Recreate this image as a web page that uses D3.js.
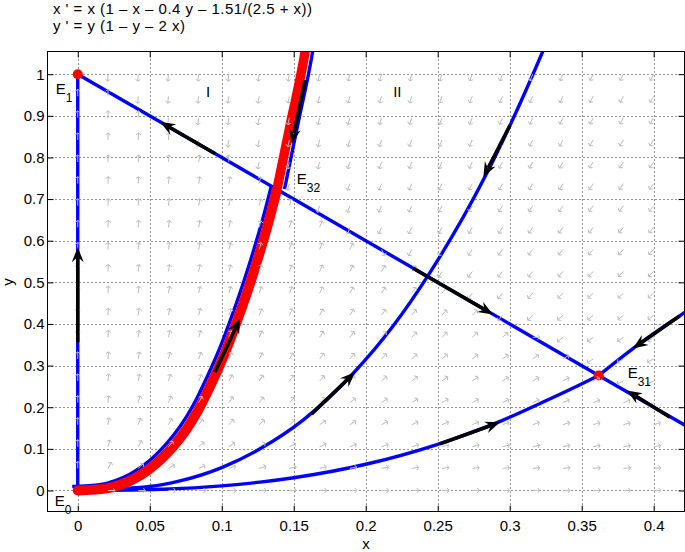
<!DOCTYPE html>
<html>
<head>
<meta charset="utf-8">
<script src="https://cdn.jsdelivr.net/npm/d3@7"></script>
<style>
  body { margin: 0; background: #fff; }
  svg { display: block; font-family: "Liberation Sans", Arial, Helvetica, sans-serif; }
</style>
</head>
<body>
<svg id="chart" width="685" height="552"></svg>
<script>
// system: x' = x (1 - x - a y - b/(c + x)), y' = y (1 - y - d x)
const a = 0.4, b = 1.51, c = 2.5, d = 2;

const xTicks = [0, 0.05, 0.1, 0.15, 0.2, 0.25, 0.3, 0.35, 0.4];
const xTickLabels = ['0', '0.05', '0.1', '0.15', '0.2', '0.25', '0.3', '0.35', '0.4'];
const yTicks = [0, 0.1, 0.2, 0.3, 0.4, 0.5, 0.6, 0.7, 0.8, 0.9, 1];
const yTickLabels = ['0', '0.1', '0.2', '0.3', '0.4', '0.5', '0.6', '0.7', '0.8', '0.9', '1'];

// quiver sample points
const quiverX = [0, 0.021, 0.042, 0.063, 0.084, 0.105, 0.126, 0.147, 0.168, 0.189,
  0.211, 0.232, 0.253, 0.274, 0.295, 0.316, 0.337, 0.358, 0.379, 0.4];
const quiverY = [0, 0.053, 0.105, 0.158, 0.211, 0.263, 0.316, 0.368, 0.421, 0.474,
  0.526, 0.579, 0.632, 0.684, 0.737, 0.789, 0.842, 0.895, 0.947, 1];

// equilibria
const equilibria = [
  { name: 'E', sub: '0', x: 0, y: 0, dot: true },
  { name: 'E', sub: '1', x: 0, y: 1, dot: true },
  { name: 'E', sub: '31', x: 0.3618, y: 0.2764, dot: true },
  { name: 'E', sub: '32', x: 0.1382, y: 0.7236, dot: false }
];

// trajectories
const axisTraj = [[0, 0], [0, 1]];
const saddleLine = [[0, 1], [0.1382, 0.7236], [0.3618, 0.2764], [0.425, 0.15]];
const curveB = [[0, 0], [0.05, 0.0095], [0.071, 0.023], [0.1, 0.055], [0.1266, 0.1],
  [0.1565, 0.169], [0.1912, 0.281], [0.219, 0.395], [0.2447, 0.524], [0.2829, 0.754],
  [0.3002, 0.877], [0.323, 1.055], [0.33, 1.113]];
const curveC = [[0, 0], [0.0641, 0.0036], [0.1, 0.011], [0.1266, 0.02], [0.15, 0.0306],
  [0.2, 0.063], [0.25, 0.111], [0.2933, 0.166], [0.321, 0.209], [0.3488, 0.254],
  [0.3618, 0.2764]];
const curveD = [[0.3618, 0.2764], [0.3856, 0.341], [0.4203, 0.425], [0.43, 0.448]];
const manifoldLower = [[0, 0], [0.02, 0.005], [0.03, 0.0143], [0.04, 0.0295], [0.048, 0.047],
  [0.0575, 0.074], [0.0658, 0.104], [0.075, 0.1445], [0.0835, 0.192], [0.0935, 0.262],
  [0.1026, 0.3335], [0.1116, 0.4166], [0.1196, 0.497], [0.1262, 0.57], [0.1325, 0.645],
  [0.1384, 0.724]];
const manifoldUpper = [[0.1384, 0.724], [0.1432, 0.805], [0.148, 0.885], [0.1575, 1.046],
  [0.16, 1.1]];

// direction arrows: [tailX, tailY, tipX, tipY]
const flowArrows = [
  [0, 0.356, 0, 0.584],
  [0.0955, 0.809, 0.0573, 0.885],
  [0.158, 0.986, 0.1486, 0.833],
  [0.0953, 0.284, 0.1127, 0.413],
  [0.2329, 0.534, 0.2884, 0.423],
  [0.1625, 0.184, 0.1926, 0.284],
  [0.3002, 0.877, 0.2817, 0.753],
  [0.2516, 0.112, 0.2933, 0.164],
  [0.418, 0.419, 0.3856, 0.341],
  [0.4113, 0.176, 0.3814, 0.24]
];

const regionLabels = [{ text: 'I', x: 0.0905, y: 0.945 }, { text: 'II', x: 0.222, y: 0.945 }];

const plot = { left: 47.5, right: 684.5, top: 51.5, bottom: 511.5 };

const svg = d3.select('#chart');

const x = d3.scaleLinear().domain([-0.021, 0.4214]).range([plot.left, plot.right]);
const y = d3.scaleLinear().domain([-0.0505, 1.0545]).range([plot.bottom, plot.top]);

svg.append('defs').append('clipPath').attr('id', 'clip')
  .append('rect')
  .attr('x', plot.left).attr('y', plot.top)
  .attr('width', plot.right - plot.left).attr('height', plot.bottom - plot.top);

// title
const title = svg.append('g').attr('font-size', 15).attr('fill', '#000');
title.append('text').attr('x', 53).attr('y', 14)
  .attr('textLength', 259).attr('lengthAdjust', 'spacing')
  .text("x ' = x (1 \u2013 x \u2013 0.4 y \u2013 1.51/(2.5 + x))");
title.append('text').attr('x', 53).attr('y', 31)
  .attr('textLength', 132).attr('lengthAdjust', 'spacing')
  .text("y ' = y (1 \u2013 y \u2013 2 x)");

// grid
const grid = svg.append('g').attr('stroke', '#222').attr('stroke-width', 1)
  .attr('stroke-dasharray', '1,3');
grid.selectAll('.gx').data(xTicks).enter().append('line')
  .attr('x1', t => Math.round(x(t)) + 0.5).attr('x2', t => Math.round(x(t)) + 0.5)
  .attr('y1', plot.top).attr('y2', plot.bottom);
grid.selectAll('.gy').data(yTicks).enter().append('line')
  .attr('y1', t => Math.round(y(t)) + 0.5).attr('y2', t => Math.round(y(t)) + 0.5)
  .attr('x1', plot.left).attr('x2', plot.right);

const body = svg.append('g').attr('clip-path', 'url(#clip)');

const smooth = d3.line()
  .x(p => x(p[0]))
  .y(p => y(p[1]))
  .curve(d3.curveMonotoneX);
const straight = d3.line()
  .x(p => x(p[0]))
  .y(p => y(p[1]));

const blue = (path, shift) => body.append('path')
  .attr('d', path)
  .attr('transform', shift ? `translate(${shift})` : null)
  .attr('fill', 'none')
  .attr('stroke', '#0000ff')
  .attr('stroke-width', 3.4);

// blue trajectories
blue(straight(axisTraj));
blue(straight(saddleLine));
blue(smooth(curveB));
blue(smooth(curveC));
blue(smooth(curveD));
// stable manifold of E32, drawn along the edge of the red band
blue(smooth(manifoldLower), [-5.5, -4]);
blue(smooth(manifoldUpper), [7.5, 0]);

// red band
body.append('path').attr('d', smooth(manifoldLower))
  .attr('fill', 'none').attr('stroke', '#ff0000').attr('stroke-width', 10);
body.append('path').attr('d', smooth(manifoldUpper))
  .attr('fill', 'none').attr('stroke', '#ff0000').attr('stroke-width', 9.5);

// equilibrium dots
body.selectAll('.eq').data(equilibria.filter(e => e.dot)).enter().append('circle')
  .attr('cx', e => x(e.x)).attr('cy', e => y(e.y)).attr('r', 5)
  .attr('fill', '#ff0000');

// direction field
const field = [];
quiverX.forEach(qx => quiverY.forEach(qy => {
  const dx = qx * (1 - qx - a * qy - b / (c + qx));
  const dy = qy * (1 - qy - d * qx);
  const sx = dx * (x(1) - x(0));
  const sy = dy * (y(1) - y(0));
  const n = Math.hypot(sx, sy);
  if (n > 0) field.push({ px: x(qx), py: y(qy), ux: sx / n, uy: sy / n });
}));

const qLen = 7, qHead = 3.2, qAng = 0.9;
body.append('g').attr('stroke', '#bcbcbc').attr('stroke-width', 1).attr('fill', 'none')
  .selectAll('path').data(field).enter().append('path')
  .attr('d', f => {
    const tx = f.px + f.ux * qLen, ty = f.py + f.uy * qLen;
    const ang = Math.atan2(f.uy, f.ux);
    const l1x = tx - qHead * Math.cos(ang - qAng), l1y = ty - qHead * Math.sin(ang - qAng);
    const l2x = tx - qHead * Math.cos(ang + qAng), l2y = ty - qHead * Math.sin(ang + qAng);
    return `M${f.px},${f.py}L${tx},${ty}M${l1x},${l1y}L${tx},${ty}L${l2x},${l2y}`;
  });

// black flow arrows
const headL = 15, headW = 12;
const arrows = body.append('g');
flowArrows.forEach(([x1, y1, x2, y2]) => {
  const ax = x(x1), ay = y(y1), bx = x(x2), by = y(y2);
  const ang = Math.atan2(by - ay, bx - ax);
  const cos = Math.cos(ang), sin = Math.sin(ang);
  arrows.append('line')
    .attr('x1', ax).attr('y1', ay)
    .attr('x2', bx - cos * headL * 0.7).attr('y2', by - sin * headL * 0.7)
    .attr('stroke', '#000').attr('stroke-width', 3.5);
  const pts = [
    [bx, by],
    [bx - cos * headL - sin * headW / 2, by - sin * headL + cos * headW / 2],
    [bx - cos * headL * 0.65, by - sin * headL * 0.65],
    [bx - cos * headL + sin * headW / 2, by - sin * headL - cos * headW / 2]
  ];
  arrows.append('polygon').attr('points', pts.map(p => p.join(',')).join(' '))
    .attr('fill', '#000');
});

// axes (ticks inside on all four sides)
const xAxis = svg.append('g').attr('transform', `translate(0,${plot.bottom})`)
  .call(d3.axisBottom(x).tickValues(xTicks).tickFormat((t, i) => xTickLabels[i])
    .tickSizeInner(-6).tickSizeOuter(0).tickPadding(9));
const yAxis = svg.append('g').attr('transform', `translate(${plot.left},0)`)
  .call(d3.axisLeft(y).tickValues(yTicks).tickFormat((t, i) => yTickLabels[i])
    .tickSizeInner(-6).tickSizeOuter(0).tickPadding(3));
svg.append('g').attr('transform', `translate(0,${plot.top})`)
  .call(d3.axisTop(x).tickValues(xTicks).tickFormat('').tickSizeInner(-6).tickSizeOuter(0));
svg.append('g').attr('transform', `translate(${plot.right},0)`)
  .call(d3.axisRight(y).tickValues(yTicks).tickFormat('').tickSizeInner(-6).tickSizeOuter(0));
svg.selectAll('.domain').remove();
[xAxis, yAxis].forEach(g => g.attr('font-size', 15).attr('font-family', null));
svg.selectAll('.tick line').attr('stroke', '#000');

svg.append('rect')
  .attr('x', plot.left).attr('y', plot.top)
  .attr('width', plot.right - plot.left).attr('height', plot.bottom - plot.top)
  .attr('fill', 'none').attr('stroke', '#000').attr('stroke-width', 1);

// axis titles
svg.append('text').attr('x', (plot.left + plot.right) / 2).attr('y', 549)
  .attr('text-anchor', 'middle').attr('font-size', 15).text('x');
svg.append('text').attr('transform', 'translate(13,282) rotate(-90)')
  .attr('text-anchor', 'middle').attr('font-size', 15).text('y');

// equilibrium labels
const labelOffset = { '0': [-23, 16], '1': [-22, 19.5], '31': [29, 3], '32': [20, -5] };
equilibria.forEach(e => {
  const off = labelOffset[e.sub];
  const t = svg.append('text').attr('x', x(e.x) + off[0]).attr('y', y(e.y) + off[1])
    .attr('font-size', 15);
  t.append('tspan').text(e.name);
  t.append('tspan').attr('font-size', 12).attr('dy', 8).text(e.sub);
});

// region labels
svg.selectAll('.region').data(regionLabels).enter().append('text')
  .attr('x', r => x(r.x)).attr('y', r => y(r.y))
  .attr('text-anchor', 'middle').attr('font-size', 15)
  .text(r => r.text);
</script>
</body>
</html>
